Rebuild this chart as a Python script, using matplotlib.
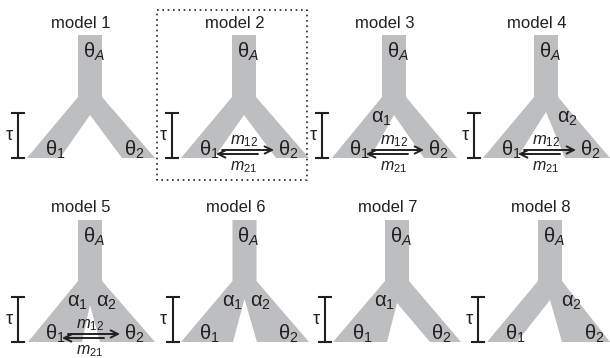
import matplotlib
matplotlib.use('Agg')
import matplotlib.pyplot as plt
from matplotlib.patches import Polygon

plt.rcParams['font.family'] = ['Liberation Sans', 'DejaVu Sans']
plt.rcParams['mathtext.fontset'] = 'custom'
plt.rcParams['mathtext.rm'] = 'Liberation Sans'
plt.rcParams['mathtext.it'] = 'Liberation Sans:italic'

# model layout (pixel units of the 610x358 canvas)
model_names = ['model 1', 'model 2', 'model 3', 'model 4',
               'model 5', 'model 6', 'model 7', 'model 8']
centers = [90, 244, 394, 546, 90, 244.5, 397, 550]
rows = [0, 0, 0, 0, 1, 1, 1, 1]
has_alpha1 = [False, False, True, False, True, True, True, False]
has_alpha2 = [False, False, False, True, True, True, False, True]
has_migration = [False, True, True, True, True, False, False, False]
# arm bottoms relative to stem centre: left outer, left inner, right inner, right outer
left_outer = [-63, -63, -62, -63, -62, -63.5, -64, -63]
left_inner = [-30, -30, -24, -29, -8, -11.5, -10, -33]
right_inner = [32, 32, 30, 19, 10, 12.5, 33, 12]
right_outer = [65, 65, 63, 64, 65, 64.5, 64, 60]
apex_dy = [18, 18, 18, 15, 24, 18, 22, 19]

row_top = [35, 220]
row_junc = [97, 281]
row_bot = [158, 342]

GRAY = '#bdbec0'
INK = '#231f20'
STEM = 12

fig = plt.figure(figsize=(6.1, 3.58), dpi=100)
ax = fig.add_axes([0, 0, 1, 1])
ax.set_xlim(0, 610)
ax.set_ylim(358, 0)
ax.axis('off')

for i, name in enumerate(model_names):
    cx = centers[i]
    top, junc, bot = row_top[rows[i]], row_junc[rows[i]], row_bot[rows[i]]
    pts = [(cx - STEM, top), (cx + STEM, top), (cx + STEM, junc),
           (cx + right_outer[i], bot), (cx + right_inner[i], bot),
           (cx, junc + apex_dy[i]),
           (cx + left_inner[i], bot), (cx + left_outer[i], bot),
           (cx - STEM, junc)]
    ax.add_patch(Polygon(pts, closed=True, facecolor=GRAY, edgecolor='none'))

    ax.text(cx - 9, top - 12, name, ha='center', va='center', fontsize=12, color=INK)
    ax.text(cx + 4, top + 17, r'θ$_{\mathit{A}}$', ha='center', va='center', fontsize=14.5, color=INK)
    ax.text(cx - 35, bot - 8, r'θ$_{\mathit{1}}$', ha='center', va='center', fontsize=14.5, color=INK)
    ax.text(cx + 44, bot - 8, r'θ$_{\mathrm{2}}$', ha='center', va='center', fontsize=14.5, color=INK)

    if has_alpha1[i]:
        ax.text(cx - 12, junc + 22, r'α$_{\mathit{1}}$', ha='center', va='center', fontsize=14.5, color=INK)
    if has_alpha2[i]:
        dx = 21 if not has_alpha1[i] else 16
        ax.text(cx + dx, junc + 22, r'α$_{\mathrm{2}}$', ha='center', va='center', fontsize=14.5, color=INK)

    if has_migration[i]:
        ax.annotate('', xy=(cx + 30, bot - 8), xytext=(cx - 22, bot - 8),
                    arrowprops=dict(arrowstyle='->', lw=1.4, color=INK,
                                    shrinkA=0, shrinkB=0, mutation_scale=13))
        ax.annotate('', xy=(cx - 28, bot - 4), xytext=(cx + 14, bot - 4),
                    arrowprops=dict(arrowstyle='->', lw=1.4, color=INK,
                                    shrinkA=0, shrinkB=0, mutation_scale=13))
        ax.text(cx, bot - 17, r'$\mathit{m}_{\mathit{12}}$', ha='center', va='center', fontsize=12, color=INK)
        ax.text(cx, bot + 1, r'$\mathit{m}_{\mathit{21}}$', ha='center', va='top', fontsize=11.5, color=INK)

    # tau scale bar
    bx = cx - 72
    ax.plot([bx, bx], [bot - 45, bot], color=INK, lw=1.5, solid_capstyle='butt')
    ax.plot([bx - 6, bx + 6], [bot - 45, bot - 45], color=INK, lw=1.5)
    ax.plot([bx - 6, bx + 6], [bot, bot], color=INK, lw=1.5)
    ax.text(bx - 9, bot - 22, 'τ', ha='center', va='center', fontsize=13, color=INK)

# dotted frame around the selected model
ax.plot([157, 307, 307, 157, 157], [10, 10, 180, 180, 10], color=INK, lw=1.2,
        linestyle=(0, (1, 2.2)))

fig.savefig('out.png', dpi=100)
